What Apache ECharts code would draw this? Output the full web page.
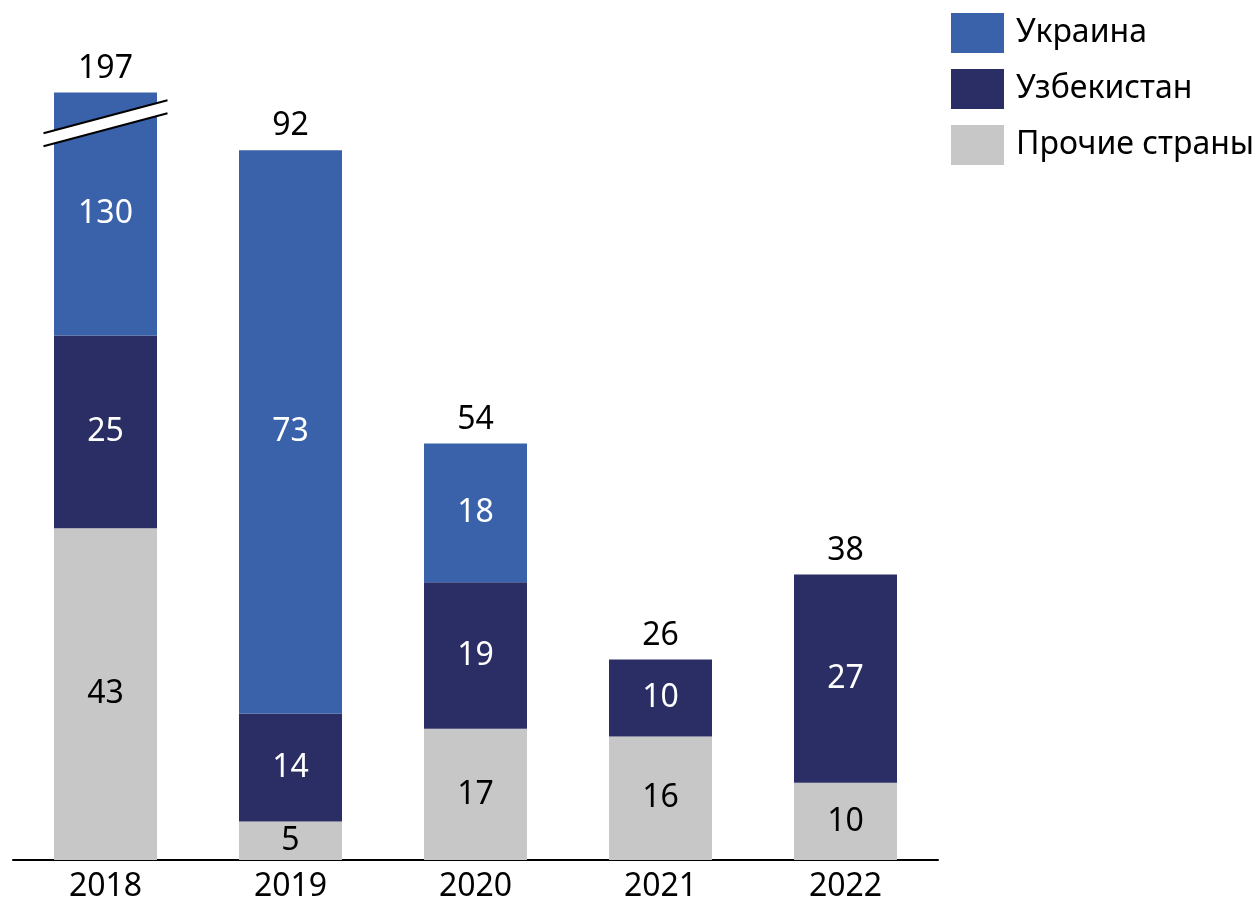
<!DOCTYPE html>
<html>
<head>
<meta charset="utf-8">
<script src="https://cdn.jsdelivr.net/npm/echarts@6/dist/echarts.min.js"></script>
<style>
  html, body { margin: 0; padding: 0; background: #fff; }
  #chart { width: 1260px; height: 910px; }
</style>
</head>
<body>
<div id="chart"></div>
<script>
var years = ['2018', '2019', '2020', '2021', '2022'];
var ukraine = [130, 73, 18, 0, 0];
var uzbekistan = [25, 14, 19, 10, 27];
var others = [43, 5, 17, 16, 10];
var totals = [197, 92, 54, 26, 38];
// axis break for the tall 2018 bar
var breakStart = 95.5, breakEnd = 194;

var font = '"Noto Sans", "DejaVu Sans", sans-serif';

function hideZero(p) { return p.value ? p.value : ''; }

var chart = echarts.init(document.getElementById('chart'));
var option = {
    animation: false,
    textStyle: { fontFamily: font },
    grid: { left: 13, right: 322, top: 77, bottom: 50 },
    legend: {
        orient: 'vertical',
        left: 951, top: 13,
        padding: 0,
        itemWidth: 53, itemHeight: 40, itemGap: 16,
        icon: 'rect',
        data: ['Украина', 'Узбекистан', 'Прочие страны'],
        textStyle: { fontSize: 32, color: '#000', fontFamily: font, padding: [0, 0, 0, 7] }
    },
    xAxis: {
        type: 'category',
        data: years,
        axisLine: { lineStyle: { color: '#000', width: 2 } },
        axisTick: { show: false },
        axisLabel: { fontSize: 32, color: '#000', margin: 11, fontFamily: font }
    },
    yAxis: {
        type: 'value',
        min: 0, max: 200,
        show: false,
        splitLine: { show: false },
        breaks: [{ start: breakStart, end: breakEnd, gap: 0 }],
        breakArea: { show: false }
    },
    series: [
        {
            name: 'Прочие страны', type: 'bar', stack: 'a', barWidth: 103,
            itemStyle: { color: '#c6c7c6' },
            label: { show: true, position: 'inside', fontSize: 32, color: '#000', fontFamily: font, formatter: hideZero },
            data: others
        },
        {
            name: 'Узбекистан', type: 'bar', stack: 'a', barWidth: 103,
            itemStyle: { color: '#2b2e64' },
            label: { show: true, position: 'inside', fontSize: 32, color: '#fff', fontFamily: font, formatter: hideZero },
            data: uzbekistan
        },
        {
            name: 'Украина', type: 'bar', stack: 'a', barWidth: 103,
            itemStyle: { color: '#3a62aa' },
            label: { show: true, position: 'inside', fontSize: 32, color: '#fff', fontFamily: font, formatter: hideZero },
            data: ukraine
        },
        {
            name: 'total', type: 'bar', stack: 'a', barWidth: 103,
            itemStyle: { color: 'transparent' },
            label: {
                show: true, position: 'top', distance: 8, fontSize: 32, color: '#000', fontFamily: font,
                formatter: function (p) { return totals[p.dataIndex]; }
            },
            data: years.map(function () { return 0; })
        }
    ]
};
chart.setOption(option);

// break mark across the 2018 bar
var c = chart.convertToPixel({ gridIndex: 0 }, ['2018', breakStart]);
if (c) {
    var cx = c[0], cy = c[1];
    var hw = 62, rise = 16.5, band = 13;
    chart.setOption({
        graphic: [
            {
                type: 'polygon', z: 100,
                shape: { points: [[cx - hw, cy + rise - band / 2], [cx + hw, cy - rise - band / 2], [cx + hw, cy - rise + band / 2], [cx - hw, cy + rise + band / 2]] },
                style: { fill: '#fff' }
            },
            {
                type: 'line', z: 101,
                shape: { x1: cx - hw, y1: cy + rise - band / 2, x2: cx + hw, y2: cy - rise - band / 2 },
                style: { stroke: '#000', lineWidth: 2 }
            },
            {
                type: 'line', z: 101,
                shape: { x1: cx - hw, y1: cy + rise + band / 2, x2: cx + hw, y2: cy - rise + band / 2 },
                style: { stroke: '#000', lineWidth: 2 }
            }
        ]
    });
}
window.addEventListener('resize', chart.resize);
</script>
</body>
</html>
